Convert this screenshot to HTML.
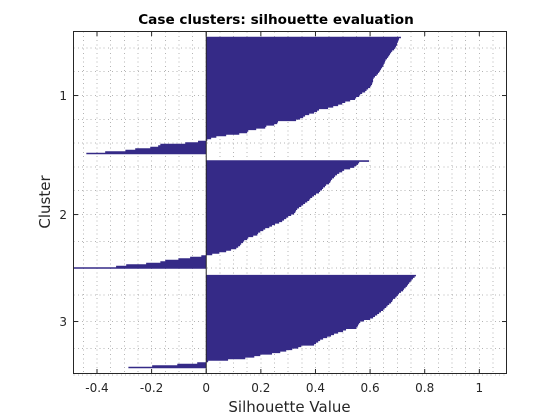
<!DOCTYPE html>
<html>
<head>
<meta charset="utf-8">
<title>Case clusters: silhouette evaluation</title>
<style>
html,body{margin:0;padding:0;background:#fff;}
svg{display:block;font-family:"DejaVu Sans","Liberation Sans",sans-serif;}
</style>
</head>
<body>
<svg id="chart" xmlns="http://www.w3.org/2000/svg" width="560" height="420" viewBox="0 0 560 420">
  <rect x="0" y="0" width="560" height="420" fill="#ffffff"/>
  <defs><clipPath id="plot-clip"><rect x="73.5" y="31.5" width="433" height="342"/></clipPath></defs>
  <g id="grid" shape-rendering="crispEdges"></g>
  <g id="bars" clip-path="url(#plot-clip)"></g>
  <g id="axes"></g>
  <text x="276" y="24" text-anchor="middle" font-size="13.6" font-weight="bold" fill="#000">Case clusters: silhouette evaluation</text>
  <text x="289.5" y="412" text-anchor="middle" font-size="15" fill="#262626">Silhouette Value</text>
  <text transform="translate(50 202) rotate(-90)" text-anchor="middle" font-size="15" fill="#262626">Cluster</text>
</svg>
<script>
var clusterNames = ["1", "2", "3"];
var cluster1Values = [
  .713,.706,.704,.702,.699,.699,.695,.692,.688,.681,.677,.673,.670,.666,.662,.657,.655,.653,.650,.648,
  .644,.640,.637,.633,.629,.624,.618,.613,.611,.611,.609,.607,.604,.600,.593,.587,.582,.571,.564,.560,
  .549,.545,.527,.509,.498,.483,.465,.446,.413,.406,.395,.377,.362,.355,.344,.329,.263,.260,.249,.220,
  .216,.183,.154,.150,.121,.073,.037,.018,.004,-.030,-.077,-.168,-.176,-.205,-.260,-.296,-.370,-.439
];
var cluster2Values = [
  .596,.560,.556,.549,.542,.527,.505,.498,.487,.479,.472,.468,.461,.457,.454,.450,.439,.435,.428,.424,
  .417,.413,.402,.395,.388,.381,.377,.370,.362,.355,.348,.340,.333,.329,.326,.322,.311,.300,.293,.285,
  .278,.267,.252,.241,.231,.216,.209,.198,.190,.187,.172,.154,.150,.139,.135,.128,.124,.117,.110,.091,
  .073,.048,.022,-.018,-.059,-.102,-.150,-.168,-.220,-.293,-.330,-.490
];
var cluster3Values = [
  .768,.763,.757,.752,.748,.743,.739,.735,.730,.724,.721,.713,.706,.702,.697,.692,.684,.681,.677,.670,
  .664,.659,.653,.648,.640,.633,.626,.618,.611,.600,.578,.564,.560,.556,.554,.549,.512,.501,.483,.468,
  .457,.443,.428,.417,.410,.402,.395,.348,.337,.315,.293,.271,.241,.198,.176,.143,.080,.007,-.033,-.106,
  -.198,-.285
];
var xTickValues = [-0.4, -0.2, 0, 0.2, 0.4, 0.6, 0.8, 1];
var xTickLabels = ["-0.4", "-0.2", "0", "0.2", "0.4", "0.6", "0.8", "1"];
var xMin = -0.486;
var xMax = 1.0995;
var clusterGap = 4;
var yPad = 3.5;
var barColor = "#352a87";
var axisColor = "#262626";
var gridColor = "#b4b4b4";

var NS = "http://www.w3.org/2000/svg";
var plotLeft = 73.5, plotRight = 506.5, plotTop = 31.5, plotBottom = 373.5;
var clusters = [cluster1Values, cluster2Values, cluster3Values];
var totalRows = clusters.reduce(function (sum, c) { return sum + c.length; }, 0) + clusterGap * (clusters.length - 1);
function xScale(v) { return plotLeft + (v - xMin) / (xMax - xMin) * (plotRight - plotLeft); }
function yScale(r) { return plotTop + (r + yPad) / (totalRows + 2 * yPad) * (plotBottom - plotTop); }
function mk(tag, attrs, parent) {
  var el = document.createElementNS(NS, tag);
  for (var k in attrs) el.setAttribute(k, attrs[k]);
  parent.appendChild(el);
  return el;
}
var gridG = document.getElementById("grid");
var barsG = document.getElementById("bars");
var axesG = document.getElementById("axes");

var offset = 0;
var yTickRows = [];
clusters.forEach(function (values, idx) {
  yTickRows.push(offset + values.length / 2);
  var d = "M" + xScale(0).toFixed(2) + " " + yScale(offset).toFixed(2);
  values.forEach(function (v, i) {
    var x = xScale(v).toFixed(2);
    d += "L" + x + " " + yScale(offset + i).toFixed(2) + "L" + x + " " + yScale(offset + i + 1).toFixed(2);
  });
  d += "L" + xScale(0).toFixed(2) + " " + yScale(offset + values.length).toFixed(2) + "Z";
  var bar = mk("path", { d: d, fill: barColor }, barsG);
  
  
  offset += values.length + clusterGap;
});

var yGridRows = [];
yTickRows.forEach(function (r, i) {
  var step = (i < yTickRows.length - 1 ? yTickRows[i + 1] - r : r - yTickRows[i - 1]) / (i < yTickRows.length - 1 ? (i === 0 ? 5 : 4) : 4);
  yGridRows.push(r);
  if (i === 0) { yGridRows.push(r - step, r - 2 * step); }
  if (i < yTickRows.length - 1) {
    var n = i === 0 ? 4 : 3;
    for (var j = 1; j <= n; j++) yGridRows.push(r + j * step);
  } else {
    yGridRows.push(r + step, r + 2 * step);
  }
});
yGridRows.forEach(function (r) {
  var y = yScale(r);
  var line = mk("line", { x1: plotLeft, x2: plotRight, y1: y, y2: y, stroke: gridColor, "stroke-width": 1, "stroke-dasharray": "1 3.3" }, gridG);
  
  
});
for (var gx = -9; gx <= 21; gx++) {
  var px = xScale(gx * 0.05);
  var vline = mk("line", { x1: px, x2: px, y1: plotTop, y2: plotBottom, stroke: gridColor, "stroke-width": 1, "stroke-dasharray": "1 3.3" }, gridG);
  
  
}

var baseline = mk("line", { x1: xScale(0), x2: xScale(0), y1: plotTop, y2: plotBottom, stroke: axisColor, "stroke-width": 1 }, axesG);


var box = mk("rect", { x: plotLeft, y: plotTop, width: plotRight - plotLeft, height: plotBottom - plotTop, fill: "none", stroke: axisColor, "stroke-width": 1 }, axesG);



xTickValues.forEach(function (v, i) {
  var x = xScale(v);
  var t1 = mk("line", { x1: x, x2: x, y1: plotBottom, y2: plotBottom - 4.5, stroke: axisColor }, axesG);
  
  
  var t2 = mk("line", { x1: x, x2: x, y1: plotTop, y2: plotTop + 4.5, stroke: axisColor }, axesG);
  
  
  var label = mk("text", { x: x, y: 392, "text-anchor": "middle", "font-size": 12, fill: axisColor }, axesG);
  
  
  label.textContent = xTickLabels[i];
});
yTickRows.forEach(function (r, i) {
  var y = yScale(r);
  var t1 = mk("line", { x1: plotLeft, x2: plotLeft + 4.5, y1: y, y2: y, stroke: axisColor }, axesG);
  
  
  var t2 = mk("line", { x1: plotRight, x2: plotRight - 4.5, y1: y, y2: y, stroke: axisColor }, axesG);
  
  
  var label = mk("text", { x: 67, y: y + 4.5, "text-anchor": "end", "font-size": 12, fill: axisColor }, axesG);
  
  
  label.textContent = clusterNames[i];
});
</script>
</body>
</html>
